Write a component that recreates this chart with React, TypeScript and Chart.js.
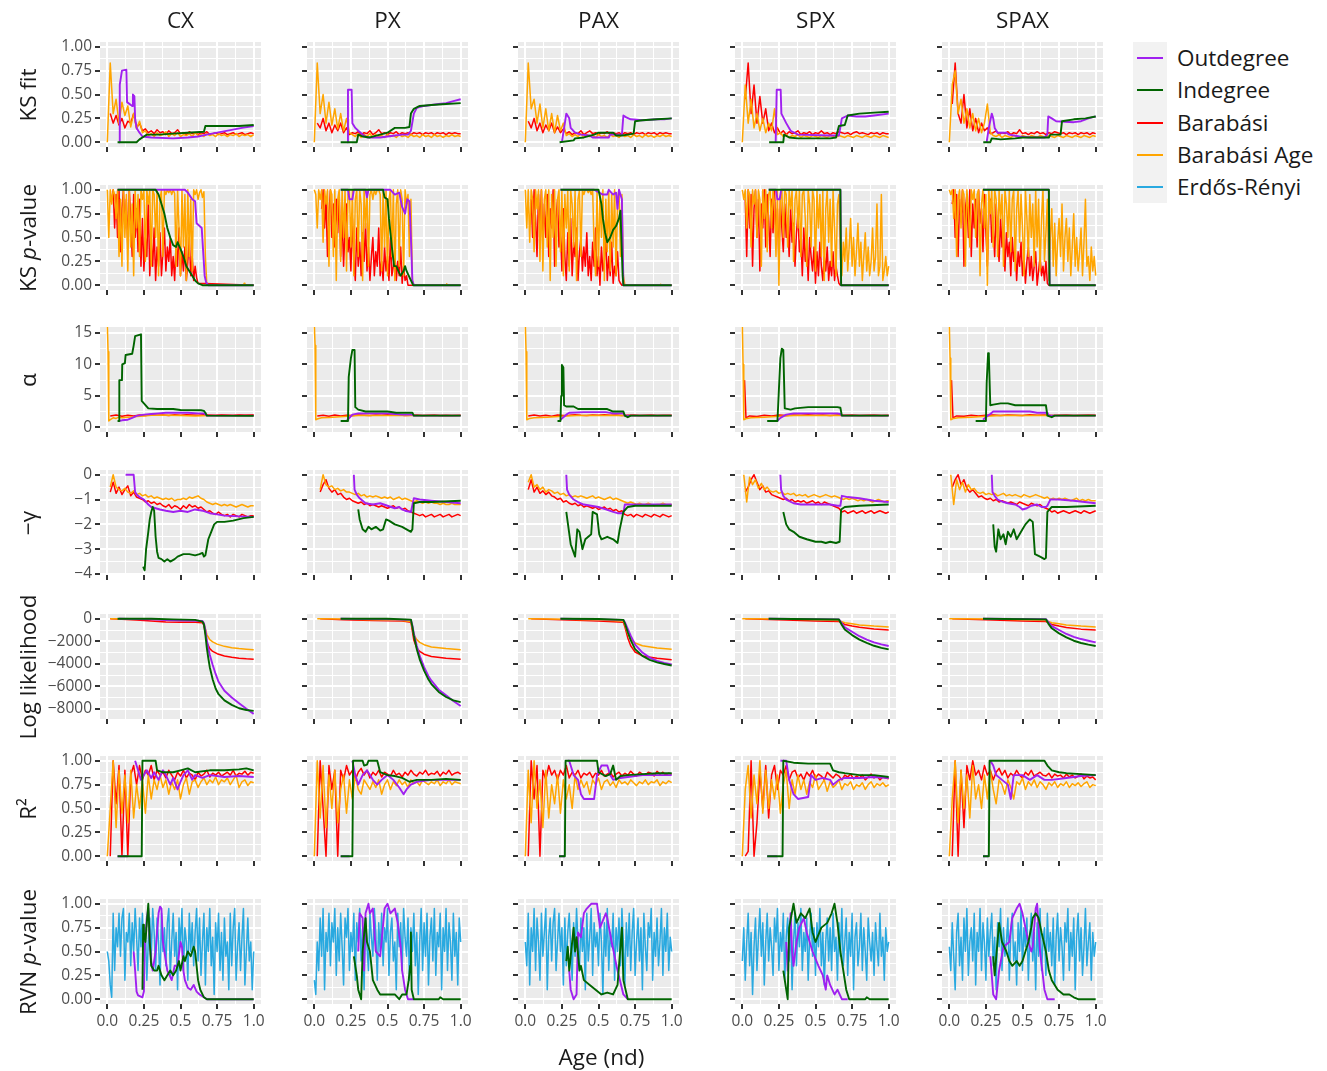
import React, { useEffect, useRef } from 'react';
import { Chart, registerables } from 'chart.js';

Chart.register(...registerables);
const FONT = "'Open Sans', 'Noto Sans', sans-serif";
Chart.defaults.font.family = FONT;

type Pt = { x: number; y: number | null };

// ---------- categories / labels ----------
const MODELS = ['CX', 'PX', 'PAX', 'SPX', 'SPAX'];
const METRICS = ['KS fit', 'KS p-value', 'α', '−γ', 'Log likelihood', 'R²', 'RVN p-value'];
const LEGEND_KEYS = ['out', 'in', 'ba', 'baa', 'er'];
const DRAW_KEYS = ['in', 'out', 'baa', 'ba', 'er']; // first = drawn on top
const SERIES_NAMES: Record<string, string> = { out: 'Outdegree', in: 'Indegree', ba: 'Barabási', baa: 'Barabási Age', er: 'Erdős-Rényi' };
const COLORS: Record<string, string> = { out: '#A020F0', in: '#006400', ba: '#FF0000', baa: '#FFA500', er: '#29A9E0' };

const X_MAJOR = [0, 0.25, 0.5, 0.75, 1];
const X_LABELS = ['0.0', '0.25', '0.5', '0.75', '1.0'];
const Y_MAJOR = [
  [0, 0.25, 0.5, 0.75, 1],
  [0, 0.25, 0.5, 0.75, 1],
  [0, 5, 10, 15],
  [-4, -3, -2, -1, 0],
  [-8000, -6000, -4000, -2000, 0],
  [0, 0.25, 0.5, 0.75, 1],
  [0, 0.25, 0.5, 0.75, 1],
];
const Y_LABELS = [
  ['0.00', '0.25', '0.50', '0.75', '1.00'],
  ['0.00', '0.25', '0.50', '0.75', '1.00'],
  ['0', '5', '10', '15'],
  ['−4', '−3', '−2', '−1', '0'],
  ['−8000', '−6000', '−4000', '−2000', '0'],
  ['0.00', '0.25', '0.50', '0.75', '1.00'],
  ['0.00', '0.25', '0.50', '0.75', '1.00'],
];
const Y_MIN = [-0.05, -0.05, -0.76, -4.04, -8904, -0.05, -0.05];
const Y_MAX = [1.05, 1.05, 15.96, 0.19, 424, 1.05, 1.05];

// ---------- data: KS fit ----------
const KSF_CX_BAA = [0,.83,.3,.45,.2,.42,.28,.38,.16,.3, .14,.22,.1,.12,.07,.09,.06,.1,.07,.08, .11,.06,.09,.07,.1,.06,.08,.07,.09,.06, .1,.07,.08,.06,.09,.07,.08,.06,.09,.07, .08,.06,.08,.07,.09,.06,.08,.07,.08,.06, .08];
const KSF_CX_BA = [.3,.2,.28,.18,.25,.15,.22,.2,.3,.15, .2,.12,.14,.1,.12,.09,.13,.1,.11,.08, .12,.09,.1,.13,.09,.1,.08,.11,.09,.1, .08,.1,.09,.11,.08,.09,.1,.08,.09,.1, .08,.09,.1,.08,.09,.1,.08,.09,.1,.09];
const KSF_CX_OUT = [.08,0, .085,.6, .1,.75, .13,.76, .135,.42, .17,.38, .175,.5, .185,.48, .19,.25, .2,.15, .22,.1, .24,.06, .3,.05, .45,.04, .55,.05, .62,.06, .68,.08, .75,.1, .85,.13, .92,.15, 1,.17];
const KSF_CX_IN = [.07,0, .2,0, .22,.03, .25,.06, .27,.08, .35,.08, .45,.09, .55,.1, .66,.11, .67,.17, .8,.17, .9,.17, 1,.18];

const KSF_PX_BAA = [0,.83,.3,.5,.2,.42,.18,.35,.14,.3, .12,.25,.1,.08,.06,.09,.05,.08,.06,.09, .05,.08,.06,.07,.05,.08,.06,.07,.05,.08, .06,.07,.05,.08,.06,.07,.05,.08,.06,.07, .05,.08,.06,.07,.05,.07,.06,.08,.06,.07, .06];
const KSF_PX_BA = [.2,.15,.25,.12,.2,.1,.18,.12,.2,.1, .15,.08,.1,.09,.11,.08,.1,.09,.12,.08, .1,.13,.09,.1,.08,.1,.09,.11,.08,.1, .09,.1,.08,.1,.09,.1,.08,.1,.09,.1, .08,.1,.09,.1,.08,.1,.09,.1,.09,.09];
const KSF_PX_OUT = [.225,0, .23,.55, .255,.55, .26,.2, .28,.15, .3,.12, .33,.08, .36,.05, .45,.05, .5,.06, .55,.07, .6,.08, .64,.08, .66,.12, .68,.3, .7,.36, .75,.38, .8,.39, .85,.4, .9,.41, .95,.43, 1,.45];
const KSF_PX_IN = [.18,0, .29,0, .3,.08, .33,.06, .38,.05, .45,.08, .5,.1, .55,.15, .62,.15, .65,.16, .66,.3, .68,.35, .72,.38, .8,.39, .9,.4, 1,.41];

const KSF_PAX_BAA = [0,.83,.35,.45,.2,.4,.15,.35,.12,.3, .1,.28,.12,.2,.07,.09,.06,.08,.06,.09, .05,.08,.06,.07,.05,.08,.06,.07,.05,.08, .06,.07,.05,.08,.06,.07,.05,.08,.06,.07, .05,.08,.06,.07,.05,.07,.06,.08,.06,.07, .06];
const KSF_PAX_BA = [.22,.15,.25,.12,.2,.1,.18,.12,.2,.1, .16,.1,.14,.09,.11,.08,.1,.09,.12,.08, .1,.12,.09,.1,.08,.1,.09,.11,.08,.1, .09,.1,.08,.1,.09,.1,.08,.1,.09,.1, .08,.1,.09,.1,.08,.1,.09,.1,.09,.09];
const KSF_PAX_OUT = [.25,0, .27,.2, .28,.3, .3,.25, .31,.15, .34,.1, .38,.08, .44,.07, .46,.05, .57,.05, .58,.08, .66,.08, .67,.28, .69,.26, .72,.24, .8,.23, .9,.24, .95,.24, 1,.25];
const KSF_PAX_IN = [.234,0, .33,.02, .34,.04, .4,.05, .47,.08, .5,.1, .6,.1, .62,.07, .66,.07, .7,.08, .74,.09, .75,.22, .8,.23, .9,.24, 1,.25];

const KSF_SPX_BAA = [0,.6,.2,.45,.15,.3,.12,.25,.1,.2, .12,.35,.08,.1,.06,.08,.05,.07,.06,.08, .05,.07,.06,.05,.07,.06,.05,.07,.06,.05, .07,.06,.05,.07,.06,.05,.07,.06,.05,.07, .06,.05,.07,.06,.05,.07,.06,.05,.07,.06, .05];
const KSF_SPX_BA = [.45,.83,.3,.6,.2,.48,.2,.35,.12,.2, .1,.15,.09,.12,.08,.11,.09,.1,.12,.08, .1,.09,.11,.08,.1,.09,.12,.09,.1,.08, .1,.09,.11,.1,.09,.1,.08,.1,.11,.09, .1,.09,.08,.1,.09,.1,.08,.1,.09,.09];
const KSF_SPX_OUT = [.228,0, .235,.55, .262,.55, .267,.3, .3,.2, .33,.12, .38,.08, .6,.07, .66,.07, .68,.25, .72,.28, .78,.27, .84,.27, .9,.28, 1,.3];
const KSF_SPX_IN = [.183,0, .28,0, .285,.08, .32,.05, .38,.04, .6,.04, .64,.05, .66,.17, .7,.18, .72,.28, .8,.3, .9,.31, 1,.32];

const KSF_SPAX_BAA = [0,.6,.75,.3,.45,.2,.35,.15,.3,.12, .25,.1,.2,.4,.1,.07,.06,.08,.05,.07, .06,.05,.07,.06,.05,.07,.06,.05,.07,.06, .05,.07,.06,.05,.07,.06,.05,.07,.06,.05, .07,.06,.05,.07,.06,.05,.07,.06,.05,.07, .06];
const KSF_SPAX_BA = [.4,.83,.3,.2,.5,.15,.35,.12,.25,.1, .2,.12,.15,.09,.1,.12,.08,.1,.09,.11, .08,.1,.09,.13,.09,.1,.08,.1,.09,.11, .09,.1,.08,.1,.09,.11,.1,.09,.1,.08, .1,.09,.1,.08,.1,.09,.1,.08,.1,.09];
const KSF_SPAX_OUT = [.255,0, .27,.15, .29,.3, .3,.25, .31,.15, .33,.1, .39,.1, .41,.08, .48,.06, .55,.05, .65,.05, .67,.08, .676,.27, .7,.25, .73,.22, .85,.21, .9,.22, .95,.25, 1,.27];
const KSF_SPAX_IN = [.232,0, .28,0, .29,.04, .35,.03, .45,.04, .5,.05, .68,.05, .69,.08, .76,.08, .77,.22, .85,.24, .93,.25, 1,.27];

// ---------- data: KS p-value ----------
const KSP_CX_BAA = [1,.5,1,.85,1,.95,.7,1,.3,.9, .2,1,.5,.95,.15,1,.4,.85,.1,1, .6,.95,.3,1,.9,1,.25,1,.85,1, .2,1,.95,.5,1,.1,.9,1,.3,1, .95,1,.97,1,.95,1,.96,.2,1,.6, .1,1,.4,.95,.05,1,.3,.9,.15,1, .95,1,.9,.97,1,.92,.98,.3,0];
const KSP_CX_BAA_TAIL = [.93,0, .935,.02, .94,0, 1,0];
const KSP_CX_BA = [.9,1,.6,.95,.5,1,.35,.8,1,.6, .9,.4,1,.7,.3,.95,.5,.8,.35,.9, .2,.7,.15,.5,.3,.9,.1,.45,.2,.6, .05,.4,.2,.55,.1,.35,.6,.15,.4,.25, .5,.1,.3,.05,.45,.2,.6,.1,.35,.15, .4,.05,.25,.5,.1,.3,.05,.2,.08,.02];
const KSP_CX_OUT = [.07,1, .53,1, .55,.97, .58,.9, .6,.88, .61,.65, .645,.6, .655,.35, .665,.1, .675,.03, .69,0, 1,0];
const KSP_CX_IN = [.07,1, .33,1, .35,.95, .37,.85, .39,.75, .41,.6, .43,.5, .45,.42, .47,.4, .48,.45, .5,.38, .52,.3, .54,.2, .56,.15, .58,.1, .6,.05, .62,.02, .65,0, 1,0];

const KSP_PX_BAA = [1,.95,.6,1,.9,1,.45,1,.85,1, .2,1,.95,.3,1,.05,.9,1,.25,1, .5,1,.15,.95,1,.4,1,.1,.9,1, .3,1,.85,.05,1,.6,1,.2,.95,1, .9,1,.95,1,1,.95,.15,1,.4,1, .1,.9,1,.3,1,.05,.85,1,.2,1, .9,.1,1,.85,.95,.3,.9,.05,0];
const KSP_PX_BAA_TAIL = [.9,0, .905,.015, .91,0, 1,0];
const KSP_PX_BA = [.8,1,.6,.9,.3,.75,1,.5,.85,.4, .9,.55,.95,.3,.7,.2,.6,.85,.35,.5, .15,.7,.3,.05,.6,.2,.45,.1,.55,.25, .65,.15,.4,.05,.3,.5,.1,.35,.2,.6, .1,.25,.05,.4,.15,.3,.05,.5,.1,.2, .35,.05,.25,.1,.4,.02,.2,.05,.1,0];
const KSP_PX_OUT = [.18,1, .23,1, .24,.9, .26,.9, .27,1, .35,1, .36,.92, .37,1, .52,1, .55,.95, .58,.97, .6,.82, .62,.75, .635,.9, .65,.88, .66,.5, .67,.05, .68,0, 1,0];
const KSP_PX_IN = [.18,1, .47,1, .48,.92, .5,.9, .51,.7, .52,.55, .53,.4, .545,.2, .56,.2, .58,.13, .59,.1, .61,.15, .62,.2, .63,.15, .645,.1, .66,.05, .675,0, 1,0];

const KSP_PAX_BAA = [1,.6,1,.45,1,.9,.35,1,.8,1, .25,1,.15,.9,1,.4,1,.05,.95,.5, 1,.2,.9,1,.35,1,.1,.95,.6,1, .15,1,.85,.4,1,.05,.9,1,.3,1, .95,1,1,.97,1,.95,1,.4,.1,1, .2,.95,.5,1,.05,.9,.35,1,.15,.95, .4,1,.1,.9,1,.3,.95,.1,0];
const KSP_PAX_BAA_TAIL = [.92,0, .925,.01, .93,0, 1,0];
const KSP_PAX_BA = [.9,.5,1,.7,.3,.95,.6,1,.4,.85, .5,.95,.3,.8,.6,1,.2,.7,.9,.4, .6,.15,.8,.3,.05,.55,.2,.7,.1,.45, .3,.6,.05,.35,.5,.15,.4,.2,.55,.1, .3,.05,.45,.2,.6,.1,.3,0,.4,.15, .25,.5,.05,.3,.1,.45,.02,.2,.1,.35, .05,.02,0];
const KSP_PAX_OUT = [.24,1, .47,1, .53,.95, .56,.95, .57,1, .6,.95, .62,.97, .63,.8, .64,1, .66,.9, .67,0, 1,0];
const KSP_PAX_IN = [.24,1, .5,1, .52,.85, .53,.7, .545,.55, .56,.45, .58,.5, .6,.58, .62,.62, .64,.7, .65,.78, .655,.55, .665,.1, .67,0, 1,0];

const KSP_SPX_BAA = [1,.9,1,.6,1,.95,.4,1,.85,1, .5,1,.9,.2,1,.7,1,.35,.95,1, .6,1,.85,.3,1,0,.9,1,.5,1, .95,.4,1,.8,1,.25,.9,1,.6,1, .3,.95,1,.7,.2,1,.85,.4,1,.9, .15,1,.6,.95,.3,1,.05,.8,1,.45, .9,.2,1,.6,.1,.85,.95,.3,.1,.45, .25,.6,.15,.4,.7,.2,.5,.1,.35,.65, .2,.45,.05,.3,.55,.15,.4,.1,.25,.6, .15,.3,.85,.1,.2,.95,.05,.15,.3,.1, .2];
const KSP_SPX_BA = [.9,.3,1,.6,.95,.2,.8,1,.5,.9, .15,.85,.6,1,.4,.95,.7,.3,.9,.55, 1,.45,.8,.25,.9,.6,.35,.85,.5,.7, .3,.8,.45,.65,.2,.55,.75,.35,.5,.1, .6,.25,.45,.05,.5,.3,.15,.4,.02,.35, .1,.45,.2,.05,.3,.15,.4,.05,.25,.1, .35,.05,.2,.1,.02,0];
const KSP_SPX_OUT = [.18,1, .23,1, .24,.9, .255,.9, .265,1, .67,1, .675,0, 1,0];
const KSP_SPX_IN = [.18,1, .67,1, .675,0, 1,0];

const KSP_SPAX_BAA = [1,.95,1,.7,1,.3,.9,1,.6,1, .95,.2,1,.8,.4,1,.9,1,.5,.95, 1,.1,.85,1,.6,.95,0,1,.75,1, .4,1,.9,.3,1,.7,.95,.2,1,.85, .5,1,.35,.9,1,.15,.8,1,.45,.95, .6,.1,1,.7,.3,.95,.5,.85,.2,1, .4,.9,.15,.7,1,.25,.55,.9,.05,.5, .8,.2,.65,.1,.45,.7,.3,.85,.15,.5, .7,.25,.6,.1,.4,.75,.2,.5,.15,.35, .6,.1,.45,.9,.2,.3,.05,.4,.15,.3, .1];
const KSP_SPAX_BA = [.85,1,.5,.95,.3,.9,.7,1,.2,.8, .95,.5,1,.3,.85,.6,.9,.4,1,.65, .8,.35,.95,.55,.2,.75,.9,.45,.6,.3, .85,.5,.25,.7,.4,.6,.15,.55,.3,.45, .1,.5,.25,.4,.05,.35,.2,.45,.1,.3, .02,.25,.4,.1,.3,.05,.2,.35,0,.15, .3,.1,.2,.05,.25,.02,0];
const KSP_SPAX_OUT = [.23,1, .68,1, .685,0, 1,0];
const KSP_SPAX_IN = [.23,1, .68,1, .685,0, 1,0];
const ZERO_TAIL = [1, 0];

// ---------- data: alpha ----------
const ALP_CX_BAA = [0,16.5, .005,12, .01,1, .02,1.2, .04,1.5, .06,1.4, .08,1.6, .1,1.5, .14,1.6, .2,1.7, .25,1.8, .3,1.9, .4,1.9, .5,1.85, .6,1.8, .7,1.85, .8,1.85, .9,1.85, 1,1.85];
const ALP_CX_BA = [.02,1.8, .06,1.95, .1,1.75, .14,1.9, .18,1.8, .22,1.95, .26,1.85, .3,2, .34,1.9, .38,1.95, .42,1.85, .46,2, .5,1.9, .54,2, .58,1.95, .62,1.9, .66,2, .7,1.95, .74,1.9, .78,2, .82,1.95, .86,1.9, .9,2, .94,1.95, 1,2];
const ALP_CX_OUT = [.08,1, .1,1.1, .14,1.2, .17,1.5, .2,1.8, .25,2, .3,2.1, .35,2.2, .4,2.3, .55,2.3, .62,2.2, .66,2.2, .68,1.85, 1,1.85];
const ALP_CX_IN = [.07,1, .08,1, .082,7.5, .1,7.5, .102,10, .12,10.2, .125,11.5, .17,11.7, .18,13, .19,14.5, .23,14.8, .235,4.2, .25,3.8, .28,3, .34,2.9, .45,2.9, .5,2.75, .64,2.7, .66,2.6, .67,2.3, .68,1.85, 1,1.8];

const ALP_PX_BAA = [0,16.5, .005,13, .01,1.2, .02,1.3, .05,1.5, .1,1.55, .2,1.7, .3,1.85, .5,1.85, .7,1.85, 1,1.85];
const ALP_PX_BA = [.02,1.8, .06,1.9, .1,1.75, .14,1.95, .18,1.8, .22,1.9, .26,1.85, .3,1.95, .34,1.9, .38,1.85, .42,1.95, .46,1.9, .5,2, .54,1.9, .58,1.95, .62,1.85, .66,1.9, .7,1.95, .74,1.85, .78,1.9, .82,1.95, .86,1.85, .9,1.9, .94,1.85, 1,1.9];
const ALP_PX_OUT = [.22,1, .24,1.5, .26,2, .3,2.2, .5,2.2, .55,2.1, .6,2, .67,2, .68,1.85, 1,1.85];
const ALP_PX_IN = [.18,1, .23,1, .235,8, .25,11, .26,12.3, .275,12.3, .28,3.2, .3,2.8, .35,2.5, .5,2.5, .56,2.3, .67,2.3, .68,1.85, 1,1.85];

const ALP_PAX_BAA = [0,16.5, .005,12, .01,1.2, .03,1.4, .06,1.5, .15,1.6, .25,1.75, .35,1.85, 1,1.85];
const ALP_PAX_BA = [.02,1.8, .06,1.95, .1,1.8, .14,1.9, .18,1.75, .22,1.95, .26,1.85, .3,1.9, .34,2, .38,1.9, .42,1.85, .46,1.95, .5,1.9, .54,2, .58,1.9, .62,1.95, .66,1.85, .7,1.9, .74,1.95, .78,1.85, .82,1.9, .86,1.95, .9,1.85, .94,1.9, 1,1.9];
const ALP_PAX_OUT = [.24,1.2, .26,1.6, .28,2, .3,2.3, .4,2.4, .55,2.4, .6,2.2, .67,2.2, .68,1.85, 1,1.85];
const ALP_PAX_IN = [.22,1, .24,1, .245,5, .25,9.9, .26,9.5, .265,3.5, .28,3.3, .33,3.3, .36,2.9, .56,2.9, .6,2.5, .67,2.5, .68,1.85, .7,1.6, .72,1.85, 1,1.85];

const ALP_SPX_BAA = [0,16.5, .005,10, .01,1.2, .03,1.4, .06,1.5, .15,1.6, .25,1.75, .35,1.85, 1,1.85];
const ALP_SPX_BA = [.015,7.5, .025,1.5, .05,1.8, .1,1.7, .15,1.9, .2,1.8, .25,1.95, .3,1.85, .35,1.95, .4,1.9, .45,2, .5,1.9, .55,1.95, .6,1.85, .65,1.95, .7,1.9, .75,1.95, .8,1.85, .85,1.9, .9,1.95, .95,1.85, 1,1.9];
const ALP_SPX_OUT = [.24,1, .26,1.5, .3,2, .35,2.2, .65,2.2, .67,2.1, .68,1.85, 1,1.85];
const ALP_SPX_IN = [.17,1, .24,1, .25,6, .26,11, .27,12.5, .28,12.3, .29,3, .33,2.8, .36,3, .45,3.2, .65,3.2, .67,3.1, .68,1.85, 1,1.85];

const ALP_SPAX_BAA = [0,16.5, .005,11, .01,1.2, .03,1.4, .06,1.5, .15,1.6, .25,1.75, .35,1.85, 1,1.85];
const ALP_SPAX_BA = [.015,7.5, .025,1.5, .05,1.8, .1,1.75, .15,1.9, .2,1.8, .25,1.9, .3,1.95, .35,1.85, .4,1.95, .45,1.9, .5,1.85, .55,2, .6,1.9, .65,1.95, .7,1.85, .75,1.9, .8,1.95, .85,1.85, .9,1.9, .95,1.95, 1,1.9];
const ALP_SPAX_OUT = [.23,1.2, .26,1.8, .28,2.1, .3,2.5, .55,2.5, .6,2.3, .67,2.3, .68,1.85, 1,1.85];
const ALP_SPAX_IN = [.18,1, .25,1, .255,7, .265,11.8, .27,11.5, .28,3.5, .3,3.6, .35,3.8, .4,3.8, .45,3.5, .66,3.5, .67,1.85, .7,1.6, .72,1.85, 1,1.85];

// ---------- data: -gamma ----------
const GAM_CX_BAA = [-.5,0,-.5,-.6,-.65,-.55,-.7,-.75,-.65,-.8, -.75,-.85,-.8,-.9,-.85,-.95,-.9,-.95,-1,-.95, -1,-.95,-1.05,-1,-1,-.95,-1,-.9,-.95,-.9, -.85,-.95,-1,-1.1,-1.15,-1.2,-1.15,-1.2,-1.25,-1.2, -1.25,-1.2,-1.25,-1.3,-1.25,-1.2,-1.25,-1.3,-1.25,-1.25];
const GAM_CX_BA = [-.7,-.3,-.75,-.5,-.8,-.6,-.45,-.85,-.7,-.9, -.95,-1,-1.1,-1.05,-1.15,-1.1,-1.2,-1.15,-1.25,-1.3, -1.2,-1.35,-1.25,-1.3,-1.4,-1.25,-1.35,-1.2,-1.3,-1.25, -1.35,-1.3,-1.4,-1.5,-1.45,-1.55,-1.6,-1.5,-1.6,-1.65, -1.6,-1.7,-1.6,-1.65,-1.7,-1.6,-1.65,-1.7,-1.65,-1.65];
const GAM_CX_OUT = [.125,0, .18,0, .19,-.7, .2,-.8, .22,-.9, .25,-1, .28,-1.2, .3,-1.3, .33,-1.35, .36,-1.4, .4,-1.45, .45,-1.5, .5,-1.45, .55,-1.5, .6,-1.4, .65,-1.45, .7,-1.55, .75,-1.6, .8,-1.65, .9,-1.68, 1,-1.7];
const GAM_CX_IN = [.245,-3.7, .255,-3.85, .265,-3, .28,-2.3, .29,-1.8, .3,-1.5, .31,-1.3, .32,-1.45, .33,-2.5, .34,-3.1, .35,-3.35, .37,-3.4, .39,-3.5, .41,-3.4, .43,-3.5, .46,-3.4, .48,-3.3, .5,-3.25, .52,-3.2, .56,-3.2, .6,-3.25, .63,-3.2, .65,-3.15, .66,-3.3, .67,-3.25, .69,-2.6, .71,-2.3, .73,-2, .75,-1.9, .8,-1.9, .86,-1.85, .93,-1.75, 1,-1.7];

const GAM_PX_BAA = [-.6,0,-.4,-.5,-.45,-.6,-.55,-.65,-.6,-.7, -.7,-.75,-.8,-.75,-.85,-.8,-.9,-.85,-.9,-.85, -.9,-.95,-.9,-.95,-.9,-1,-.95,-.9,-1,-.95, -1,-1.05,-1.1,-1.05,-1.1,-1.15,-1.1,-1.15,-1.1,-1.15, -1.15,-1.2,-1.15,-1.2,-1.2,-1.15,-1.2,-1.2,-1.2];
const GAM_PX_BA = [-.7,-.4,-.2,-.55,-.7,-.6,-.8,-.75,-.9,-1, -.95,-1.05,-1.1,-1.15,-1.1,-1.2,-1.15,-1.25,-1.2,-1.25, -1.3,-1.25,-1.3,-1.35,-1.3,-1.25,-1.35,-1.3,-1.4,-1.35, -1.45,-1.5,-1.55,-1.6,-1.65,-1.6,-1.7,-1.65,-1.6,-1.7, -1.65,-1.6,-1.7,-1.65,-1.6,-1.7,-1.65,-1.6,-1.65];
const GAM_PX_OUT = [.27,0, .275,-.6, .29,-.8, .31,-.95, .33,-1.05, .35,-1.15, .4,-1.2, .45,-1.15, .5,-1.25, .55,-1.35, .58,-1.3, .6,-1.4, .62,-1.45, .66,-1.5, .68,-.95, .72,-1, .8,-1.05, .9,-1.1, 1,-1.15];
const GAM_PX_IN = [.3,-1.4, .31,-1.8, .33,-2.2, .35,-2.3, .37,-2.1, .39,-2.2, .42,-2.1, .45,-2.25, .47,-2.2, .49,-1.8, .51,-1.85, .55,-2, .6,-2.1, .63,-2.2, .66,-2.3, .67,-2.2, .68,-1.15, .72,-1.1, .8,-1.1, 1,-1.05];

const GAM_PAX_BAA = [-.3,0,-.5,-.4,-.6,-.5,-.7,-.6,-.65,-.75, -.7,-.8,-.75,-.85,-.8,-.9,-.85,-.9,-.85,-.9, -.95,-.9,-.85,-.95,-.9,-.95,-1,-.95,-.9,-1, -.95,-1,-1.05,-1.1,-1.15,-1.1,-1.15,-1.2,-1.15,-1.2, -1.2,-1.15,-1.2,-1.25,-1.2,-1.2,-1.15,-1.2,-1.2,-1.2];
const GAM_PAX_BA = [-.6,-.2,-.7,-.5,-.75,-.65,-.8,-.7,-.85,-.9, -1,-.95,-1.1,-1.05,-1.15,-1.2,-1.15,-1.25,-1.2,-1.3, -1.25,-1.3,-1.35,-1.3,-1.4,-1.35,-1.3,-1.4,-1.35,-1.45, -1.4,-1.5,-1.45,-1.6,-1.65,-1.6,-1.7,-1.6,-1.65,-1.7, -1.6,-1.65,-1.7,-1.6,-1.65,-1.7,-1.6,-1.65,-1.7,-1.65];
const GAM_PAX_OUT = [.28,0, .285,-.6, .3,-.8, .33,-1, .36,-1.1, .4,-1.2, .45,-1.25, .5,-1.3, .55,-1.4, .6,-1.5, .63,-1.55, .67,-1.55, .68,-1.2, .75,-1.2, .85,-1.2, 1,-1.2];
const GAM_PAX_IN = [.28,-1.5, .31,-2.8, .34,-3.3, .355,-2.2, .37,-2.3, .39,-3, .41,-2.6, .43,-2.5, .45,-2.4, .46,-1.5, .49,-1.6, .505,-2.4, .52,-2.6, .56,-2.5, .6,-2.6, .63,-2.75, .645,-2.2, .67,-1.5, .7,-1.3, .75,-1.25, 1,-1.25];

const GAM_SPX_BAA = [0,-1.1,-.1,-.4,-.2,-.55,-.35,-.6,-.5,-.65, -.7,-.65,-.75,-.7,-.8,-.75,-.8,-.75,-.85,-.8, -.85,-.8,-.9,-.85,-.8,-.85,-.9,-.85,-.8,-.85, -.9,-.85,-.9,-.95,-1,-.95,-1,-.95,-1,-1.05, -1,-1.05,-1,-1.05,-1.1,-1.05,-1,-1.05,-1.1,-1.05];
const GAM_SPX_BAA_TAIL = [1, -1.05];
const GAM_SPX_BA = [-.7,-.5,-.2,0,-.3,-.6,-.45,-.7,-.65,-.8, -.85,-.9,-.95,-1,-.95,-1.05,-1,-1.1,-1.05,-1.1, -1.05,-1.15,-1.1,-1.05,-1.15,-1.1,-1.2,-1.1,-1.15,-1.2, -1.25,-1.3,-1.35,-1.5,-1.45,-1.55,-1.5,-1.45,-1.55,-1.5, -1.45,-1.55,-1.5,-1.45,-1.55,-1.5,-1.45,-1.5,-1.55,-1.5];
const GAM_SPX_OUT = [.26,0, .265,-.6, .28,-.85, .3,-1, .35,-1.15, .4,-1.2, .5,-1.2, .6,-1.2, .65,-1.25, .67,-1.25, .68,-.85, .72,-.9, .8,-.95, .9,-1.05, 1,-1.1];
const GAM_SPX_IN = [.28,-1.5, .3,-2, .32,-2.2, .35,-2.3, .39,-2.5, .44,-2.6, .5,-2.7, .54,-2.7, .57,-2.75, .6,-2.7, .64,-2.75, .665,-2.7, .675,-1.4, .7,-1.3, .8,-1.25, 1,-1.2];

const GAM_SPAX_BAA = [0,-1.2,-.2,-.6,-.3,-.7,-.4,-.6,-.55,-.7, -.75,-.7,-.8,-.75,-.8,-.75,-.85,-.8,-.75,-.85, -.8,-.85,-.8,-.85,-.9,-.8,-.85,-.9,-.85,-.8, -.85,-.9,-.95,-.9,-1,-.95,-1,-.95,-1,-.95, -1,-1.05,-1,-.95,-1.05,-1,-1.05,-1,-1.05,-1.05];
const GAM_SPAX_BAA_TAIL = [1, -1.05];
const GAM_SPAX_BA = [-.5,-.2,0,-.4,-.2,-.55,-.7,-.6,-.75,-.9, -.85,-.95,-1,-.95,-1.05,-1,-1.1,-1.05,-1.1,-1.15, -1.1,-1.15,-1.2,-1.1,-1.15,-1.2,-1.25,-1.15,-1.2,-1.25, -1.2,-1.3,-1.35,-1.4,-1.5,-1.45,-1.55,-1.5,-1.45,-1.5, -1.55,-1.5,-1.45,-1.5,-1.55,-1.45,-1.5,-1.55,-1.5,-1.45];
const GAM_SPAX_OUT = [.29,0, .295,-.7, .31,-.85, .33,-1, .37,-1.1, .4,-1.15, .45,-1.2, .48,-1.3, .5,-1.4, .53,-1.35, .56,-1.25, .6,-1.2, .63,-1.3, .66,-1.3, .67,-1.25, .69,-1, .75,-1, .85,-1.05, 1,-1.15];
const GAM_SPAX_IN = [.3,-2, .31,-2.9, .32,-3.1, .335,-2.2, .35,-2.6, .37,-2.4, .385,-2.8, .4,-2.3, .42,-2.5, .44,-2.2, .46,-2.6, .48,-2.4, .5,-2.2, .52,-2, .55,-1.8, .57,-1.9, .585,-3.2, .62,-3.3, .65,-3.4, .66,-3.35, .67,-1.5, .7,-1.3, .8,-1.3, 1,-1.25];

// ---------- data: log likelihood ----------
const LL_CX_BAA = [.02,0, .2,-30, .3,-50, .4,-100, .5,-150, .6,-200, .65,-250, .66,-400, .67,-900, .68,-1400, .7,-1850, .72,-2050, .75,-2250, .8,-2450, .85,-2580, .9,-2650, .95,-2700, 1,-2750];
const LL_CX_BA = [.02,0, .1,-50, .2,-100, .3,-200, .4,-280, .5,-300, .6,-320, .65,-350, .66,-600, .67,-1300, .68,-2100, .7,-2650, .72,-2900, .75,-3100, .8,-3300, .85,-3420, .9,-3500, .95,-3560, 1,-3600];
const LL_CX_OUT = [.08,0, .3,-50, .4,-120, .5,-150, .6,-180, .65,-200, .66,-400, .67,-1000, .68,-1900, .69,-2600, .7,-3200, .72,-4100, .74,-4900, .76,-5600, .8,-6400, .85,-7000, .9,-7500, .95,-8000, 1,-8450];
const LL_CX_IN = [.07,0, .3,0, .45,-50, .6,-100, .65,-250, .66,-500, .67,-1400, .68,-2600, .69,-3500, .7,-4300, .72,-5400, .74,-6200, .76,-6700, .8,-7250, .85,-7650, .9,-7950, .95,-8100, 1,-8180];

const LL_PX_BAA = [.02,0, .2,-20, .4,-80, .6,-150, .66,-250, .67,-800, .68,-1400, .7,-1850, .72,-2100, .75,-2300, .8,-2500, .9,-2650, 1,-2750];
const LL_PX_BA = [.04,0, .2,-80, .4,-150, .6,-200, .66,-300, .67,-1100, .68,-1900, .7,-2600, .72,-2900, .75,-3150, .8,-3350, .9,-3500, 1,-3600];
const LL_PX_OUT = [.18,0, .5,-50, .66,-100, .67,-600, .68,-1300, .7,-2400, .72,-3300, .75,-4300, .78,-5100, .8,-5500, .85,-6300, .9,-6800, .95,-7300, 1,-7750];
const LL_PX_IN = [.18,0, .5,0, .66,-80, .67,-700, .68,-1500, .7,-2700, .72,-3600, .75,-4600, .78,-5400, .8,-5800, .85,-6500, .9,-6950, .95,-7250, 1,-7400];

const LL_PAX_BAA = [.02,0, .3,-50, .5,-100, .67,-200, .68,-500, .7,-1300, .72,-1800, .75,-2150, .8,-2400, .9,-2600, 1,-2700];
const LL_PAX_BA = [.04,0, .3,-100, .5,-200, .67,-300, .68,-700, .7,-1700, .72,-2400, .75,-2950, .8,-3300, .9,-3500, 1,-3650];
const LL_PAX_OUT = [.24,0, .5,-50, .67,-100, .68,-300, .7,-900, .72,-1500, .75,-2300, .8,-3000, .85,-3450, .9,-3750, .95,-3920, 1,-4050];
const LL_PAX_IN = [.24,0, .5,-20, .67,-100, .68,-400, .7,-1200, .72,-1900, .75,-2700, .8,-3300, .85,-3650, .9,-3870, .95,-4020, 1,-4150];

const LL_SPX_BAA = [0,0, .3,-30, .5,-80, .66,-150, .68,-250, .7,-350, .75,-450, .8,-550, .9,-650, 1,-720];
const LL_SPX_BA = [.02,0, .3,-100, .5,-200, .66,-250, .68,-350, .7,-500, .75,-650, .8,-750, .9,-900, 1,-1000];
const LL_SPX_OUT = [.18,0, .66,-50, .68,-400, .7,-750, .75,-1150, .8,-1550, .85,-1850, .9,-2100, .95,-2280, 1,-2420];
const LL_SPX_IN = [.18,0, .66,-60, .68,-550, .7,-950, .75,-1450, .8,-1850, .85,-2150, .9,-2400, .95,-2580, 1,-2720];

const LL_SPAX_BAA = [0,0, .3,-30, .5,-80, .66,-150, .68,-250, .7,-350, .75,-450, .8,-550, .9,-650, 1,-720];
const LL_SPAX_BA = [.02,0, .3,-100, .5,-200, .66,-250, .68,-350, .7,-500, .75,-650, .8,-780, .9,-920, 1,-1000];
const LL_SPAX_OUT = [.23,0, .66,-40, .68,-350, .7,-650, .75,-1000, .8,-1350, .85,-1600, .9,-1800, .95,-1950, 1,-2100];
const LL_SPAX_IN = [.23,0, .66,-50, .68,-500, .7,-850, .75,-1300, .8,-1650, .85,-1950, .9,-2150, .95,-2300, 1,-2420];

// ---------- data: R² ----------
const RSQ_CX_BAA = [0,.5,1,.3,.9,.45,.85,.35,.9,.4, .75,.5,.8,.45,.85,.6,.8,.7,.85,.72, .8,.65,.78,.7,.8,.6,.75,.82,.65,.78, .8,.72,.78,.82,.75,.8,.77,.83,.75,.8, .78,.82,.75,.8,.85,.72,.78,.8,.74,.78, .77];
const RSQ_CX_BA = [0,1,.55,.95,0,.9,0,.85,.95,.75, .95,.8,.9,.85,.95,.8,.9,.85,.88,.82, .9,.85,.8,.88,.84,.9,.82,.87,.85,.8, .88,.84,.86,.9,.83,.87,.85,.88,.84,.86, .88,.85,.9,.84,.87,.86,.89,.85,.88,.87];
const RSQ_CX_OUT = [.07,0, .14,0, .145,null, .19,1, .21,.9, .23,.8, .25,.85, .27,.9, .3,.82, .32,.88, .35,.8, .38,.9, .4,.85, .43,.75, .45,.82, .48,.7, .5,.78, .52,.85, .55,.9, .58,.8, .6,.85, .65,.82, .7,.85, .8,.83, .9,.84, 1,.83];
const RSQ_CX_IN = [.07,0, .235,0, .24,1, .33,1, .34,.9, .38,.88, .45,.88, .5,.9, .55,.92, .6,.88, .7,.9, .8,.9, .9,.91, .95,.92, 1,.9];

const RSQ_PX_BAA = [0,1,.4,.95,.3,.85,.5,.9,.35,.7, .85,.45,.8,.6,.85,.7,.65,.8,.75,.7, .78,.72,.8,.65,.75,.8,.7,.78,.74,.8, .75,.78,.72,.8,.76,.78,.74,.8,.77,.75, .78,.76,.8,.74,.78,.76,.8,.75,.78,.77, .76];
const RSQ_PX_BA = [0,1,.5,0,.95,.7,.9,0,.9,.8, .95,.85,.9,.8,.88,.92,.85,.9,.82,.88, .85,.9,.83,.88,.86,.84,.9,.85,.87,.83, .88,.85,.9,.86,.84,.88,.86,.9,.85,.87, .86,.89,.84,.88,.86,.9,.85,.87,.88,.86];
const RSQ_PX_OUT = [.18,0, .24,0, .245,null, .26,1, .28,.85, .3,.75, .33,.85, .36,.9, .4,.8, .43,.75, .46,.8, .5,.85, .54,.8, .58,.72, .61,.65, .63,.7, .66,.75, .7,.78, .8,.8, .9,.8, 1,.8];
const RSQ_PX_IN = [.18,0, .26,0, .265,1, .33,1, .34,.95, .36,.96, .37,1, .43,1, .45,.88, .5,.85, .55,.84, .6,.82, .65,.78, .7,.8, .8,.8, .9,.81, 1,.8];

const RSQ_PAX_BAA = [0,.9,.35,1,.5,.8,.3,.9,.4,.75, .55,.85,.45,.8,.6,.75,.5,.85,.7,.8, .72,.78,.65,.8,.75,.82,.7,.78,.8,.74, .78,.72,.8,.76,.78,.75,.8,.77,.74,.78, .76,.8,.75,.78,.77,.8,.74,.78,.76,.79, .77];
const RSQ_PAX_BA = [0,1,.6,.95,0,.9,.8,.95,.85,.9, .8,.9,.85,.95,.82,.88,.85,.9,.82,.87, .85,.88,.82,.87,.85,.9,.84,.86,.88,.83, .86,.88,.84,.87,.85,.89,.86,.84,.88,.86, .85,.88,.87,.84,.89,.86,.88,.85,.87,.86];
const RSQ_PAX_OUT = [.23,0, .27,0, .275,null, .29,1, .3,1, .33,.85, .36,.8, .38,.65, .4,.6, .44,.6, .47,.6, .49,.85, .52,.95, .56,.95, .58,.85, .6,.8, .65,.82, .7,.83, .8,.85, .9,.85, 1,.85];
const RSQ_PAX_IN = [.23,0, .27,0, .275,1, .49,1, .5,.88, .55,.84, .58,.86, .6,.95, .62,.8, .65,.84, .7,.85, .8,.86, .9,.87, 1,.87];

const RSQ_SPX_BAA = [0,.7,.95,.4,.85,.55,1,.45,.9,.5, .8,.6,.85,.45,.75,.9,.5,.8,.65,.85, .7,.8,.65,.78,.72,.85,.7,.75,.8,.68, .78,.72,.75,.8,.7,.76,.74,.78,.7,.75, .73,.77,.7,.75,.78,.72,.76,.74,.77,.73, .75];
const RSQ_SPX_BA = [0,.05,1,0,.35,.9,.5,.95,.4,.85, .95,.7,.9,.85,.95,.8,.88,.9,.82,.86, .8,.88,.84,.9,.82,.86,.84,.8,.88,.85, .82,.86,.84,.8,.85,.83,.86,.81,.84,.82, .85,.8,.83,.86,.82,.84,.8,.83,.82,.81];
const RSQ_SPX_OUT = [.17,0, .24,0, .245,null, .26,1, .3,1, .32,.8, .35,.65, .38,.6, .45,.62, .47,.85, .5,.8, .55,.82, .6,.8, .62,.75, .66,.8, .7,.82, .8,.82, .9,.83, 1,.82];
const RSQ_SPX_IN = [.17,0, .275,0, .28,1, .35,.98, .45,.97, .6,.97, .62,.9, .66,.88, .7,.87, .8,.85, .9,.85, 1,.83];

const RSQ_SPAX_BAA = [0,.6,1,.35,.9,.5,.85,.4,.95,.6, .75,.5,.85,.6,.9,.7,.55,.8,.75,.65, .8,.72,.6,.78,.75,.82,.7,.78,.74,.8, .72,.78,.75,.7,.77,.74,.78,.72,.76,.74, .78,.72,.76,.74,.77,.73,.76,.78,.72,.75, .74];
const RSQ_SPAX_BA = [0,1,0,.9,.3,.95,.8,1,.85,.9, .8,.95,.85,.9,.8,.88,.92,.85,.9,.82, .87,.84,.9,.85,.82,.88,.85,.9,.84,.86, .88,.85,.84,.87,.82,.86,.84,.85,.82,.86, .83,.85,.82,.84,.86,.81,.84,.82,.83,.8];
const RSQ_SPAX_OUT = [.23,0, .265,0, .27,null, .28,1, .3,.95, .32,.85, .36,.8, .4,.75, .42,.6, .44,.85, .5,.85, .55,.8, .6,.85, .65,.8, .7,.8, .8,.82, .9,.84, 1,.85];
const RSQ_SPAX_IN = [.23,0, .27,0, .275,1, .65,1, .67,.95, .7,.9, .75,.88, .8,.87, .9,.86, 1,.85];

// ---------- data: RVN p-value ----------
const RVN_CX_ER = [.5,.4,.15,.02,.9,.3,.75,.55,.9,.45, .85,.95,.2,.7,.6,.9,.35,.8,.5,.95, .65,.3,.85,.55,.9,.4,.75,.2,.6,.85, .45,.95,.7,.3,.85,.6,.15,.9,.5,.75, .35,.8,.95,.25,.6,.9,.45,.7,.1,.85, .55,.95,.3,.75,.6,.2,.9,.5,.8,.35, .7,.95,.4,.85,.25,.6,.9,.15,.75,.5, .95,.35,.65,.05,.8,.5,.9,.3,.7,.2, .85,.45,.6,.1,.9,.35,.75,.95,.2,.55, .8,.3,.65,.95,.15,.5,.85,.4,.6,.1, .5];
const RVN_CX_OUT = [.18,.5, .19,.3, .2,.08, .21,.04, .24,.02, .25,.08, .255,.55, .27,.85, .28,.95, .29,.6, .3,.4, .31,.3, .33,.5, .35,.9, .36,.97, .37,.95, .38,.6, .39,.5, .41,.3, .44,.2, .46,.35, .48,.35, .5,.6, .51,.55, .52,.3, .53,.2, .55,.12, .57,.1, .59,.15, .61,.08, .63,.05, .66,.02, .68,0, 1,0];
const RVN_CX_IN = [.24,.1, .245,.78, .25,.7, .26,.6, .27,.8, .28,1, .29,.6, .3,.35, .32,.3, .34,.3, .35,.35, .37,.25, .39,.2, .41,.25, .43,.3, .45,.25, .47,.3, .49,.4, .5,.3, .52,.45, .53,.4, .55,.5, .57,.45, .59,.55, .6,.5, .61,.35, .62,.2, .635,.1, .66,.02, .68,0, 1,0];

const RVN_PX_ER = [.2,.05,.6,.3,.85,.45,.95,.1,.7,.5, .9,.35,.8,.6,.95,.25,.75,.4,.9,.55, .15,.85,.65,.95,.3,.7,.5,.9,.2,.8, .6,.95,.4,.75,.1,.85,.55,.3,.9,.65, .45,.95,.7,.2,.8,.5,.9,.35,.75,.6, .95,.25,.7,.85,.4,.6,.1,.9,.55,.8, .3,.95,.65,.45,.85,.2,.75,.5,.9,.35, .7,.05,.6,.95,.3,.8,.45,.9,.15,.65, .85,.4,.95,.25,.7,.55,.9,.1,.75,.5, .95,.3,.8,.6,.2,.9,.45,.7,.15,.85, .6];
const RVN_PX_OUT = [.3,.5, .31,.9, .33,.85, .34,.3, .35,.9, .37,1, .38,.9, .4,.95, .42,.5, .45,.45, .48,.95, .5,1, .52,.9, .55,.95, .57,.8, .59,.55, .6,.3, .62,.1, .64,0, .68,0];
const RVN_PX_IN = [.27,.45, .29,.25, .3,.1, .32,0, .33,.5, .35,.85, .36,.6, .38,.5, .4,.2, .43,.1, .45,.05, .5,.05, .55,.05, .58,0, .6,.05, .63,.05, .645,.2, .655,.35, .66,.7, .665,.1, .68,0, .85,0, .86,.02, .88,0, 1,0];

const RVN_PAX_ER = [.6,.35,.9,.15,.75,.5,.95,.3,.85,.6, .2,.9,.45,.7,.95,.1,.65,.85,.4,.8, .95,.3,.6,.9,.5,.75,.15,.85,.35,.7, .9,.55,.2,.8,.45,.95,.6,.3,.85,.5, .75,.1,.9,.4,.65,.95,.25,.8,.55,.7, .35,.9,.6,.05,.8,.45,.95,.3,.7,.55, .9,.2,.75,.5,.85,.35,.95,.6,.15,.8, .45,.9,.3,.7,.95,.25,.6,.85,.4,.75, .1,.9,.55,.3,.8,.65,.95,.2,.7,.45, .85,.35,.6,.95,.25,.75,.5,.9,.3,.65, .5];
const RVN_PAX_OUT = [.3,.3, .31,.1, .33,0, .35,.05, .36,.7, .38,.65, .4,.9, .42,.95, .45,1, .49,1, .51,.75, .55,.9, .56,.85, .59,.6, .63,.3, .67,.05, .7,0];
const RVN_PAX_IN = [.28,.4, .29,.55, .3,.3, .33,.75, .34,.5, .35,.65, .37,.3, .38,.35, .4,.2, .44,.15, .48,.1, .52,.05, .56,.07, .6,.05, .63,.15, .66,.75, .67,.2, .7,0, 1,0];

const RVN_SPX_ER = [.4,.75,.2,.6,.9,.35,.7,.05,.55,.85, .3,.65,.95,.45,.8,.15,.6,.9,.4,.75, .55,.25,.85,.6,.95,.3,.7,.5,.9,.2, .65,.85,.4,.75,.1,.6,.9,.35,.8,.55, .95,.3,.7,.5,.85,.2,.65,.9,.45,.75, .25,.8,.55,.95,.35,.7,.15,.6,.85,.4, .75,.3,.9,.5,.65,.2,.8,.45,.95,.35, .6,.85,.25,.7,.45,.9,.1,.65,.8,.35, .55,.9,.3,.75,.5,.2,.85,.6,.4,.7, .25,.8,.55,.35,.9,.45,.65,.2,.75,.5, .6];
const RVN_SPX_OUT = [.3,.6, .31,.3, .33,.9, .34,.5, .35,.35, .37,.6, .39,.75, .42,.85, .44,.7, .48,.5, .52,.35, .55,.25, .57,.1, .58,.25, .6,.15, .63,.05, .65,.1, .68,0, .72,0];
const RVN_SPX_IN = [.28,.3, .31,0, .32,.75, .35,1, .37,.8, .4,.9, .43,.85, .46,.95, .48,.7, .5,.6, .54,.75, .58,.8, .61,.9, .63,1, .65,.8, .67,.5, .69,.3, .71,.1, .73,0, .84,0, .85,.02, .87,0, 1,0];

const RVN_SPAX_ER = [.55,.3,.8,.45,.1,.7,.9,.35,.65,.2, .85,.5,.95,.25,.6,.75,.4,.9,.15,.7, .5,.95,.3,.8,.6,.2,.85,.45,.7,.9, .35,.65,.1,.8,.55,.95,.3,.75,.45,.6, .85,.2,.7,.9,.4,.6,.15,.8,.5,.95, .3,.75,.55,.85,.2,.65,.9,.4,.7,.1, .8,.45,.95,.3,.6,.75,.25,.9,.5,.7, .35,.85,.15,.65,.9,.4,.75,.55,.2,.8, .6,.95,.3,.7,.45,.85,.1,.65,.9,.4, .75,.25,.55,.95,.35,.6,.8,.2,.7,.45, .6];
const RVN_SPAX_OUT = [.28,.45, .3,.05, .32,0, .34,.3, .37,.55, .41,.6, .43,.85, .46,.95, .48,1, .5,.9, .54,.6, .56,.5, .57,.55, .59,.95, .6,1, .62,.5, .65,.1, .67,0, .72,0];
const RVN_SPAX_IN = [.3,.45, .31,.25, .34,.8, .36,.6, .39,.5, .41,.4, .43,.35, .46,.4, .48,.35, .5,.4, .52,.5, .54,.6, .56,.75, .57,.85, .59,.9, .61,.85, .63,.7, .66,.5, .68,.3, .7,.2, .74,.1, .78,.05, .82,.05, .85,.02, .88,0, 1,0];

// ---------- builders ----------
const p = (a: (number | null)[]): Pt[] => {
  const out: Pt[] = [];
  for (let i = 0; i < a.length; i += 2) out.push({ x: a[i] as number, y: a[i + 1] });
  return out;
};
const g = (x0: number, dx: number, ys: number[], tail: (number | null)[] = []): Pt[] => [
  ...ys.map((y, i) => ({ x: Math.round((x0 + i * dx) * 10000) / 10000, y })),
  ...p(tail),
];

const PANELS: Record<string, Pt[]>[][] = [
  [
    { out: p(KSF_CX_OUT), in: p(KSF_CX_IN), ba: g(.02, .02, KSF_CX_BA), baa: g(0, .02, KSF_CX_BAA) },
    { out: p(KSF_PX_OUT), in: p(KSF_PX_IN), ba: g(.02, .02, KSF_PX_BA), baa: g(0, .02, KSF_PX_BAA) },
    { out: p(KSF_PAX_OUT), in: p(KSF_PAX_IN), ba: g(.02, .02, KSF_PAX_BA), baa: g(0, .02, KSF_PAX_BAA) },
    { out: p(KSF_SPX_OUT), in: p(KSF_SPX_IN), ba: g(.02, .02, KSF_SPX_BA), baa: g(0, .02, KSF_SPX_BAA) },
    { out: p(KSF_SPAX_OUT), in: p(KSF_SPAX_IN), ba: g(.02, .02, KSF_SPAX_BA), baa: g(0, .02, KSF_SPAX_BAA) },
  ],
  [
    { out: p(KSP_CX_OUT), in: p(KSP_CX_IN), ba: g(.03, .01, KSP_CX_BA, ZERO_TAIL), baa: g(0, .01, KSP_CX_BAA, KSP_CX_BAA_TAIL) },
    { out: p(KSP_PX_OUT), in: p(KSP_PX_IN), ba: g(.05, .01, KSP_PX_BA, ZERO_TAIL), baa: g(0, .01, KSP_PX_BAA, KSP_PX_BAA_TAIL) },
    { out: p(KSP_PAX_OUT), in: p(KSP_PAX_IN), ba: g(.04, .01, KSP_PAX_BA, ZERO_TAIL), baa: g(0, .01, KSP_PAX_BAA, KSP_PAX_BAA_TAIL) },
    { out: p(KSP_SPX_OUT), in: p(KSP_SPX_IN), ba: g(.02, .01, KSP_SPX_BA, ZERO_TAIL), baa: g(0, .01, KSP_SPX_BAA) },
    { out: p(KSP_SPAX_OUT), in: p(KSP_SPAX_IN), ba: g(.02, .01, KSP_SPAX_BA, ZERO_TAIL), baa: g(0, .01, KSP_SPAX_BAA) },
  ],
  [
    { out: p(ALP_CX_OUT), in: p(ALP_CX_IN), ba: p(ALP_CX_BA), baa: p(ALP_CX_BAA) },
    { out: p(ALP_PX_OUT), in: p(ALP_PX_IN), ba: p(ALP_PX_BA), baa: p(ALP_PX_BAA) },
    { out: p(ALP_PAX_OUT), in: p(ALP_PAX_IN), ba: p(ALP_PAX_BA), baa: p(ALP_PAX_BAA) },
    { out: p(ALP_SPX_OUT), in: p(ALP_SPX_IN), ba: p(ALP_SPX_BA), baa: p(ALP_SPX_BAA) },
    { out: p(ALP_SPAX_OUT), in: p(ALP_SPAX_IN), ba: p(ALP_SPAX_BA), baa: p(ALP_SPAX_BAA) },
  ],
  [
    { out: p(GAM_CX_OUT), in: p(GAM_CX_IN), ba: g(.02, .02, GAM_CX_BA), baa: g(.02, .02, GAM_CX_BAA) },
    { out: p(GAM_PX_OUT), in: p(GAM_PX_IN), ba: g(.04, .02, GAM_PX_BA), baa: g(.04, .02, GAM_PX_BAA) },
    { out: p(GAM_PAX_OUT), in: p(GAM_PAX_IN), ba: g(.02, .02, GAM_PAX_BA), baa: g(.02, .02, GAM_PAX_BAA) },
    { out: p(GAM_SPX_OUT), in: p(GAM_SPX_IN), ba: g(.02, .02, GAM_SPX_BA), baa: g(.01, .02, GAM_SPX_BAA, GAM_SPX_BAA_TAIL) },
    { out: p(GAM_SPAX_OUT), in: p(GAM_SPAX_IN), ba: g(.02, .02, GAM_SPAX_BA), baa: g(.01, .02, GAM_SPAX_BAA, GAM_SPAX_BAA_TAIL) },
  ],
  [
    { out: p(LL_CX_OUT), in: p(LL_CX_IN), ba: p(LL_CX_BA), baa: p(LL_CX_BAA) },
    { out: p(LL_PX_OUT), in: p(LL_PX_IN), ba: p(LL_PX_BA), baa: p(LL_PX_BAA) },
    { out: p(LL_PAX_OUT), in: p(LL_PAX_IN), ba: p(LL_PAX_BA), baa: p(LL_PAX_BAA) },
    { out: p(LL_SPX_OUT), in: p(LL_SPX_IN), ba: p(LL_SPX_BA), baa: p(LL_SPX_BAA) },
    { out: p(LL_SPAX_OUT), in: p(LL_SPAX_IN), ba: p(LL_SPAX_BA), baa: p(LL_SPAX_BAA) },
  ],
  [
    { out: p(RSQ_CX_OUT), in: p(RSQ_CX_IN), ba: g(.02, .02, RSQ_CX_BA), baa: g(0, .02, RSQ_CX_BAA) },
    { out: p(RSQ_PX_OUT), in: p(RSQ_PX_IN), ba: g(.02, .02, RSQ_PX_BA), baa: g(0, .02, RSQ_PX_BAA) },
    { out: p(RSQ_PAX_OUT), in: p(RSQ_PAX_IN), ba: g(.02, .02, RSQ_PAX_BA), baa: g(0, .02, RSQ_PAX_BAA) },
    { out: p(RSQ_SPX_OUT), in: p(RSQ_SPX_IN), ba: g(.02, .02, RSQ_SPX_BA), baa: g(0, .02, RSQ_SPX_BAA) },
    { out: p(RSQ_SPAX_OUT), in: p(RSQ_SPAX_IN), ba: g(.02, .02, RSQ_SPAX_BA), baa: g(0, .02, RSQ_SPAX_BAA) },
  ],
  [
    { out: p(RVN_CX_OUT), in: p(RVN_CX_IN), er: g(0, .01, RVN_CX_ER) },
    { out: p(RVN_PX_OUT), in: p(RVN_PX_IN), er: g(0, .01, RVN_PX_ER) },
    { out: p(RVN_PAX_OUT), in: p(RVN_PAX_IN), er: g(0, .01, RVN_PAX_ER) },
    { out: p(RVN_SPX_OUT), in: p(RVN_SPX_IN), er: g(0, .01, RVN_SPX_ER) },
    { out: p(RVN_SPAX_OUT), in: p(RVN_SPAX_IN), er: g(0, .01, RVN_SPAX_ER) },
  ],
];

// ---------- layout (pixels) ----------
const PLOT_W = 161;
const PLOT_H = 105;
const COL_LEFT = [100, 307, 518, 735, 942];
const ROW_TOP = [42, 185, 327, 470, 614, 756, 899];
const PAD = 16;
const AXW = [62, 14, 14, 14, 14];
const AXH = 8;
const AXH_BOTTOM = 34;
const TITLE_SIZE = 22.5;
const TICK_SIZE = 15.5;

const withMinor = (major: number[]) => {
  const out: number[] = [];
  major.forEach((m, i) => {
    out.push(m);
    if (i < major.length - 1) out.push((m + major[i + 1]) / 2);
  });
  return out;
};
const near = (a: number, b: number) => Math.abs(a - b) < 1e-7 * Math.max(1, Math.abs(a), Math.abs(b));

const panelBg = {
  id: 'panelBg',
  beforeDraw(chart: any) {
    const { ctx, chartArea: a } = chart;
    ctx.save();
    ctx.fillStyle = '#EBEBEB';
    ctx.fillRect(a.left, a.top, a.right - a.left, a.bottom - a.top);
    ctx.restore();
  },
};

const gridFor = (major: number[]) => ({
  drawTicks: true,
  tickLength: 5,
  color: '#FFFFFF',
  lineWidth: (ctx: any) => (ctx.tick && major.some((m) => near(m, ctx.tick.value)) ? 2 : 1),
  tickColor: (ctx: any) => (ctx.tick && major.some((m) => near(m, ctx.tick.value)) ? '#333333' : 'rgba(0,0,0,0)'),
  tickWidth: (ctx: any) => (ctx.tick && major.some((m) => near(m, ctx.tick.value)) ? 2 : 0.01),
});

function Panel({ r, c }: { r: number; c: number }) {
  const ref = useRef<HTMLCanvasElement>(null);
  const axw = AXW[c];
  const axh = r === 6 ? AXH_BOTTOM : AXH;
  const w = axw + PLOT_W + PAD;
  const h = PAD + PLOT_H + axh + PAD;
  useEffect(() => {
    const s = PANELS[r][c];
    const datasets = DRAW_KEYS.filter((k) => s[k]).map((k) => ({
      label: SERIES_NAMES[k],
      data: s[k],
      borderColor: COLORS[k],
      backgroundColor: COLORS[k],
      borderWidth: k === 'in' || k === 'out' ? 1.9 : 1.5,
      borderJoinStyle: 'round' as const,
      pointRadius: 0,
      tension: 0,
      spanGaps: false,
      fill: false,
    }));
    const yMajor = Y_MAJOR[r];
    const yTicks = withMinor(yMajor);
    const xTicks = withMinor(X_MAJOR);
    const chart = new Chart(ref.current as HTMLCanvasElement, {
      type: 'line',
      data: { datasets: datasets as any },
      plugins: [panelBg],
      options: {
        animation: false,
        responsive: false,
        maintainAspectRatio: false,
        devicePixelRatio: 1,
        events: [],
        layout: { padding: { top: PAD, right: PAD, bottom: PAD, left: 0 } },
        plugins: { legend: { display: false }, tooltip: { enabled: false } },
        scales: {
          x: {
            type: 'linear',
            min: -0.05,
            max: 1.05,
            afterBuildTicks: (ax: any) => { ax.ticks = xTicks.map((v) => ({ value: v })); },
            afterFit: (ax: any) => { ax.height = axh; },
            ticks: {
              display: r === 6,
              autoSkip: false,
              maxRotation: 0,
              minRotation: 0,
              padding: 3,
              color: '#4D4D4D',
              font: { size: TICK_SIZE, family: FONT },
              callback: (v: any) => {
                const i = X_MAJOR.findIndex((m) => near(m, Number(v)));
                return i >= 0 ? X_LABELS[i] : '';
              },
            },
            grid: gridFor(X_MAJOR) as any,
            border: { display: false },
          },
          y: {
            type: 'linear',
            min: Y_MIN[r],
            max: Y_MAX[r],
            afterBuildTicks: (ax: any) => { ax.ticks = yTicks.map((v) => ({ value: v })); },
            afterFit: (ax: any) => { ax.width = axw; },
            ticks: {
              display: c === 0,
              autoSkip: false,
              padding: 3,
              color: '#4D4D4D',
              font: { size: TICK_SIZE, family: FONT },
              callback: (v: any) => {
                const i = yMajor.findIndex((m) => near(m, Number(v)));
                return i >= 0 ? Y_LABELS[r][i] : '';
              },
            },
            grid: gridFor(yMajor) as any,
            border: { display: false },
          },
        },
      } as any,
    });
    return () => chart.destroy();
  }, [r, c]);
  return (
    <canvas
      ref={ref}
      width={w}
      height={h}
      style={{ position: 'absolute', left: COL_LEFT[c] - axw, top: ROW_TOP[r] - PAD, width: w, height: h }}
    />
  );
}

function RowLabel({ text, y }: { text: string; y: number }) {
  const parts = text.split('p-value');
  return (
    <div
      style={{
        position: 'absolute', left: 28, top: y, transform: 'translate(-50%, -50%) rotate(-90deg)',
        whiteSpace: 'nowrap', fontSize: TITLE_SIZE, lineHeight: 1, color: '#1A1A1A',
      }}
    >
      {parts.length > 1 ? (<>{parts[0]}<i>p</i>-value</>) : text}
    </div>
  );
}

export default function App() {
  const cells: React.ReactNode[] = [];
  for (let r = 0; r < METRICS.length; r++) {
    for (let c = 0; c < MODELS.length; c++) cells.push(<Panel key={`${r}-${c}`} r={r} c={c} />);
  }
  const keyH = 32.2;
  return (
    <div style={{ position: 'absolute', left: 0, top: 0, width: 1327, height: 1071, background: '#FFFFFF', fontFamily: FONT, overflow: 'hidden' }}>
      {cells}
      {MODELS.map((m, c) => (
        <div key={m} style={{ position: 'absolute', left: COL_LEFT[c] + PLOT_W / 2, top: 20, transform: 'translate(-50%, -50%)', fontSize: TITLE_SIZE, lineHeight: 1, color: '#1A1A1A', whiteSpace: 'nowrap' }}>{m}</div>
      ))}
      {METRICS.map((t, r) => (<RowLabel key={t} text={t} y={ROW_TOP[r] + PLOT_H / 2} />))}
      <div style={{ position: 'absolute', left: (COL_LEFT[0] + COL_LEFT[4] + PLOT_W) / 2, top: 1057, transform: 'translate(-50%, -50%)', fontSize: TITLE_SIZE, lineHeight: 1, color: '#1A1A1A', whiteSpace: 'nowrap' }}>Age (nd)</div>
      <div style={{ position: 'absolute', left: 1133, top: 42, width: 34, height: keyH * 5, background: '#F2F2F2' }} />
      {LEGEND_KEYS.map((k, i) => (
        <React.Fragment key={k}>
          <div style={{ position: 'absolute', left: 1137, top: 42 + keyH / 2 + i * keyH - 1, width: 26, height: 2, background: COLORS[k] }} />
          <div style={{ position: 'absolute', left: 1177, top: 42 + keyH / 2 + i * keyH, transform: 'translateY(-50%)', fontSize: TITLE_SIZE, lineHeight: 1, color: '#1A1A1A', whiteSpace: 'nowrap' }}>{SERIES_NAMES[k]}</div>
        </React.Fragment>
      ))}
    </div>
  );
}
